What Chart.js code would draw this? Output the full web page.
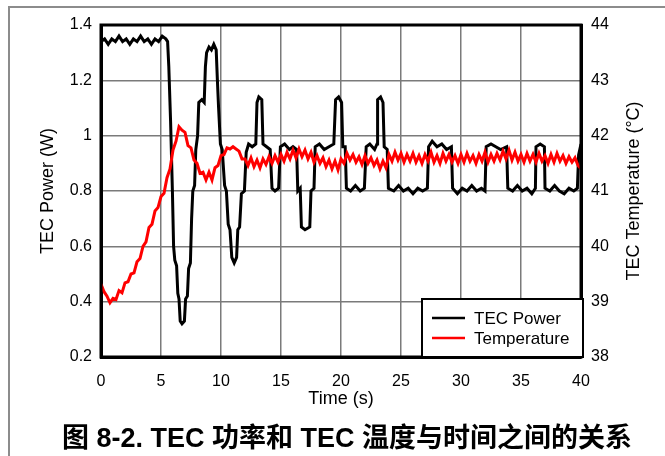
<!DOCTYPE html>
<html>
<head>
<meta charset="utf-8">
<script src="https://cdn.jsdelivr.net/npm/chart.js@4.4.1/dist/chart.umd.min.js"></script>
<style>
  html, body { margin: 0; padding: 0; background: #fff; }
  #wrap { position: relative; width: 665px; height: 456px; overflow: hidden; }
  #frame { position: absolute; left: 8px; top: 6px; width: 700px; height: 500px;
           border-left: 2px solid #8c8c8c; border-top: 2px solid #8c8c8c; }
  #caption { position: absolute; left: 62px; top: 416px; white-space: nowrap; line-height: 32px;
             font: bold 27px "Liberation Sans", "Noto Sans CJK SC", sans-serif; color: #000; }
  canvas { position: absolute; left: 0; top: 0; }
</style>
</head>
<body>
<div id="wrap">
  <div id="frame"></div>
  <canvas id="tecChart" width="665" height="456"></canvas>
  <div id="caption">图 8-2. TEC 功率和 TEC 温度与时间之间的关系</div>
</div>
<script>
// |------------------------------- data -------------------------------|

// TEC power (W), black trace: time (s) and value
var powerTime = [
  0, 0.3, 0.6, 0.9, 1.2, 1.5, 1.8, 2.1, 2.4, 2.7, 3.0, 3.3, 3.6, 3.9, 4.2, 4.5, 4.8, 5.1, 5.4, 5.55,
  5.65, 5.8, 5.95, 6.05, 6.15, 6.3, 6.4, 6.5, 6.6, 6.75, 6.95, 7.05, 7.2, 7.3, 7.45, 7.55, 7.65, 7.8, 7.9, 8.05,
  8.15, 8.4, 8.6, 8.7, 8.8, 9.0, 9.2, 9.4, 9.6, 9.7, 9.8, 9.95, 10.1, 10.3, 10.45, 10.6, 10.75, 10.9, 11.1, 11.3,
  11.4, 11.55, 11.7, 11.95, 12.1, 12.3, 12.6, 12.9, 13.0, 13.15, 13.4, 13.5, 13.8, 14.1, 14.25, 14.5, 14.8, 14.95, 15.3, 15.7,
  16.0, 16.3, 16.4, 16.6, 16.7, 17.0, 17.4, 17.5, 17.75, 17.85, 18.2, 18.6, 19.0, 19.4, 19.55, 19.8, 20.05, 20.15, 20.35, 20.45,
  20.8, 21.2, 21.6, 21.95, 22.1, 22.4, 22.8, 23.0, 23.05, 23.3, 23.5, 23.6, 23.85, 23.95, 24.4, 24.8, 25.2, 25.6, 26.0, 26.4,
  26.8, 27.2, 27.3, 27.6, 28.0, 28.4, 28.8, 29.2, 29.3, 29.7, 30.1, 30.5, 30.9, 31.3, 31.7, 32.0, 32.1, 32.5, 32.9, 33.3,
  33.8, 33.9, 34.3, 34.7, 35.1, 35.5, 35.9, 36.2, 36.25, 36.6, 36.95, 37.0, 37.4, 37.8, 38.2, 38.6, 39.0, 39.4, 39.7, 39.8,
  40.0
];
var powerW = [
  1.34, 1.35, 1.33, 1.35, 1.34, 1.36, 1.34, 1.35, 1.33, 1.35, 1.34, 1.36, 1.34, 1.35, 1.33, 1.35, 1.34, 1.36, 1.35, 1.34,
  1.25, 1.05, 0.80, 0.60, 0.55, 0.53, 0.43, 0.41, 0.33, 0.32, 0.33, 0.41, 0.42, 0.52, 0.54, 0.70, 0.80, 0.82, 0.95, 1.00,
  1.12, 1.13, 1.12, 1.25, 1.30, 1.32, 1.31, 1.33, 1.31, 1.20, 1.10, 0.97, 0.95, 0.82, 0.80, 0.68, 0.66, 0.56, 0.54, 0.56,
  0.66, 0.67, 0.79, 0.80, 0.94, 0.97, 0.96, 0.97, 1.12, 1.14, 1.13, 0.97, 0.96, 0.95, 0.81, 0.80, 0.81, 0.96, 0.97, 0.95,
  0.96, 0.95, 0.80, 0.81, 0.67, 0.66, 0.67, 0.80, 0.81, 0.96, 0.97, 0.95, 0.96, 0.97, 1.13, 1.14, 1.12, 0.96, 0.96, 0.81,
  0.80, 0.82, 0.80, 0.81, 0.96, 0.97, 0.95, 0.97, 1.13, 1.14, 1.12, 0.96, 0.95, 0.81, 0.80, 0.82, 0.80, 0.81, 0.79, 0.81,
  0.80, 0.81, 0.96, 0.98, 0.96, 0.97, 0.95, 0.96, 0.81, 0.79, 0.81, 0.80, 0.82, 0.80, 0.81, 0.80, 0.96, 0.97, 0.96, 0.95,
  0.96, 0.81, 0.80, 0.82, 0.80, 0.81, 0.79, 0.81, 0.96, 0.97, 0.96, 0.81, 0.80, 0.82, 0.80, 0.79, 0.81, 0.80, 0.81, 0.93,
  0.97
];

// TEC temperature (°C), red trace, one reading every 0.25 s from 0 to 40 s
var tempStep = 0.25;
var tempC = [
  39.32, 39.18, 39.10, 38.98, 39.06, 39.04, 39.20, 39.16, 39.34, 39.36, 39.50, 39.52, 39.72, 39.78, 40.00, 40.08, 40.34, 40.40, 40.64, 40.70, 40.90, 40.96, 41.24, 41.40,
  41.74, 41.90, 42.16, 42.10, 42.06, 41.82, 41.78, 41.56, 41.50, 41.32, 41.34, 41.20, 41.34, 41.20, 41.42, 41.46, 41.64, 41.66, 41.78, 41.76, 41.80, 41.76, 41.72, 41.58,
  41.58, 41.46, 41.60, 41.44, 41.56, 41.42, 41.58, 41.48, 41.62, 41.50, 41.64, 41.52, 41.66, 41.54, 41.70, 41.58, 41.74, 41.60, 41.76, 41.62, 41.74, 41.58, 41.70, 41.52,
  41.64, 41.50, 41.60, 41.44, 41.56, 41.40, 41.54, 41.38, 41.58, 41.50, 41.68, 41.56, 41.66, 41.52, 41.62, 41.48, 41.64, 41.50, 41.60, 41.46, 41.56, 41.40, 41.54, 41.42,
  41.66, 41.54, 41.70, 41.56, 41.68, 41.52, 41.66, 41.54, 41.68, 41.52, 41.64, 41.50, 41.66, 41.54, 41.70, 41.52, 41.64, 41.50, 41.68, 41.54, 41.66, 41.52, 41.64, 41.50,
  41.66, 41.52, 41.68, 41.54, 41.64, 41.50, 41.66, 41.54, 41.70, 41.52, 41.66, 41.54, 41.68, 41.56, 41.72, 41.58, 41.74, 41.56, 41.70, 41.54, 41.66, 41.52, 41.68, 41.54,
  41.66, 41.52, 41.68, 41.54, 41.64, 41.50, 41.66, 41.52, 41.68, 41.54, 41.64, 41.50, 41.62, 41.52, 41.60, 41.46, 41.40
];

var seriesNames = ['TEC Power', 'Temperature'];
var seriesColors = ['#000000', '#ff0000'];

// |------------------------------- Chart.js - dual axis line chart -------------------------------|

var FONT = '"Liberation Sans", Arial, sans-serif';

var powerPoints = powerTime.map(function (t, i) { return { x: t, y: powerW[i] }; });
var tempPoints = tempC.map(function (v, i) { return { x: i * tempStep, y: v }; });

// frame, legend box and right-hand axis title
var extras = {
  id: 'extras',
  afterDatasetsDraw: function (chart) {
    var ctx = chart.ctx, a = chart.chartArea;
    ctx.save();
    ctx.strokeStyle = '#000';
    ctx.lineWidth = 3;
    ctx.strokeRect(a.left, a.top, a.right - a.left, a.bottom - a.top);
    ctx.restore();
  },
  afterDraw: function (chart) {
    var ctx = chart.ctx, a = chart.chartArea;
    ctx.save();
    // legend inside the bottom-right corner
    var w = 161, h = 58;
    var bx = a.right - w + 2, by = a.bottom - h;
    ctx.fillStyle = '#fff';
    ctx.fillRect(bx, by, w, h);
    ctx.strokeStyle = '#000';
    ctx.lineWidth = 2;
    ctx.strokeRect(bx, by, w, h);
    ctx.font = '17px ' + FONT;
    ctx.textBaseline = 'middle';
    for (var i = 0; i < seriesNames.length; i++) {
      var ly = by + 19 + i * 20;
      ctx.strokeStyle = seriesColors[i];
      ctx.lineWidth = 2.5;
      ctx.beginPath();
      ctx.moveTo(bx + 10, ly);
      ctx.lineTo(bx + 43, ly);
      ctx.stroke();
      ctx.fillStyle = '#000';
      ctx.fillText(seriesNames[i], bx + 52, ly + 1);
    }
    // right axis title, reading bottom to top
    ctx.font = '18px ' + FONT;
    ctx.translate(634, (a.top + a.bottom) / 2);
    ctx.rotate(-Math.PI / 2);
    ctx.textAlign = 'center';
    ctx.fillText('TEC Temperature (°C)', 0, 0);
    ctx.restore();
  }
};

var ctx = document.getElementById('tecChart').getContext('2d');
var tecChart = new Chart(ctx, {
  type: 'line',
  data: {
    datasets: [{
      label: seriesNames[0],
      data: powerPoints,
      yAxisID: 'y',
      borderColor: seriesColors[0],
      borderWidth: 3,
      pointRadius: 0,
      order: 1
    }, {
      label: seriesNames[1],
      data: tempPoints,
      yAxisID: 'y1',
      borderColor: seriesColors[1],
      borderWidth: 3,
      pointRadius: 0,
      order: 0
    }]
  },
  options: {
    responsive: false,
    animation: false,
    events: [],
    layout: { padding: { top: 25, left: 0, right: 0, bottom: 0 } },
    scales: {
      x: {
        type: 'linear',
        min: 0,
        max: 40,
        ticks: { stepSize: 5, color: '#000', font: { family: FONT, size: 16 }, padding: 15, maxRotation: 0 },
        grid: { color: '#7a7a7a', lineWidth: 1.5, drawTicks: false },
        border: { color: '#000', width: 3 },
        title: { display: true, text: 'Time (s)', color: '#000', font: { family: FONT, size: 18 }, padding: { top: 0, bottom: 46 } },
        afterFit: function (s) { s.height = 99; }
      },
      y: {
        position: 'left',
        min: 0.2,
        max: 1.4,
        ticks: {
          stepSize: 0.2, color: '#000', font: { family: FONT, size: 16 }, padding: 9,
          callback: function (v) { return String(Number(v.toFixed(1))); }
        },
        grid: { color: '#7a7a7a', lineWidth: 1.5, drawTicks: false },
        border: { color: '#000', width: 3 },
        title: { display: true, text: 'TEC Power (W)', color: '#000', font: { family: FONT, size: 18 }, padding: { top: 37, bottom: 0 } },
        afterFit: function (s) { s.width = 101; }
      },
      y1: {
        position: 'right',
        min: 38,
        max: 44,
        ticks: { stepSize: 1, color: '#000', font: { family: FONT, size: 16 }, padding: 10 },
        grid: { display: false, drawTicks: false },
        border: { color: '#000', width: 3 },
        afterFit: function (s) { s.width = 84; }
      }
    },
    plugins: {
      legend: { display: false },
      tooltip: { enabled: false }
    }
  },
  plugins: [extras]
});
</script>
</body>
</html>
